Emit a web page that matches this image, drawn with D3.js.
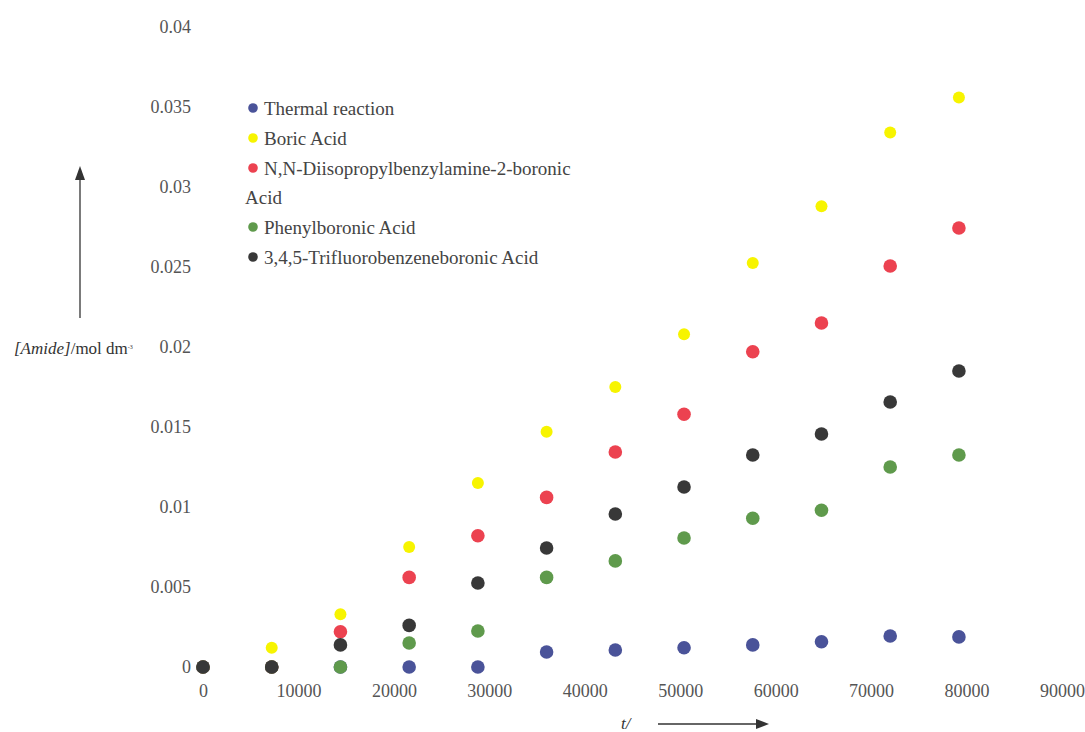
<!DOCTYPE html>
<html>
<head>
<meta charset="utf-8">
<script src="https://cdn.jsdelivr.net/npm/d3@7"></script>
<style>
  html, body { margin: 0; padding: 0; background: #fff; }
  svg { display: block; }
</style>
</head>
<body>
<svg id="chart" width="1085" height="732"></svg>
<script>
// ---- data (time in s, concentration in mol dm^-3) ----
const times      = [0, 7200, 14400, 21600, 28800, 36000, 43200, 50400, 57600, 64800, 72000, 79200];
const thermal    = [0, 0, 0, 0, 0, 0.00094, 0.00106, 0.0012, 0.00138, 0.00158, 0.00194, 0.00188];
const boric      = [0, 0.0012, 0.0033, 0.0075, 0.0115, 0.0147, 0.0175, 0.0208, 0.02525, 0.0288, 0.0334, 0.0356];
const diisoprop  = [0, 0, 0.0022, 0.0056, 0.0082, 0.0106, 0.01344, 0.0158, 0.0197, 0.0215, 0.02506, 0.02744];
const phenyl     = [0, 0, 0, 0.0015, 0.00225, 0.0056, 0.00663, 0.00806, 0.0093, 0.0098, 0.0125, 0.01325];
const trifluoro  = [0, 0, 0.00138, 0.0026, 0.00525, 0.00744, 0.00956, 0.01125, 0.01325, 0.01456, 0.01656, 0.0185];

const seriesNames  = ["Thermal reaction", "Boric Acid", "N,N-Diisopropylbenzylamine-2-boronic Acid", "Phenylboronic Acid", "3,4,5-Trifluorobenzeneboronic Acid"];
const seriesColors = ["#4a5399", "#f7f400", "#ec4250", "#5f9a4c", "#383838"];
const xTicks = [0, 10000, 20000, 30000, 40000, 50000, 60000, 70000, 80000, 90000];
const yTicks = [0, 0.005, 0.01, 0.015, 0.02, 0.025, 0.03, 0.035, 0.04];
const yTickLabels = ["0", "0.005", "0.01", "0.015", "0.02", "0.025", "0.03", "0.035", "0.04"];

const seriesValues = [thermal, boric, diisoprop, phenyl, trifluoro];

const svg = d3.select("#chart");
const font = "'Liberation Serif', 'Times New Roman', serif";

const x = d3.scaleLinear().domain([0, 90000]).range([203, 1062]);
const y = d3.scaleLinear().domain([0, 0.04]).range([667, 27]);

// y axis (labels only)
const yAxis = svg.append("g")
  .attr("transform", `translate(${x(0)},0)`)
  .call(d3.axisLeft(y).tickValues(yTicks).tickSize(0).tickPadding(12)
        .tickFormat((d, i) => yTickLabels[i]));
yAxis.select(".domain").remove();
yAxis.selectAll("text").attr("font-family", font).attr("font-size", 18).attr("fill", "#555");

// x axis (labels only)
const xAxis = svg.append("g")
  .attr("transform", `translate(0,${y(0)})`)
  .call(d3.axisBottom(x).tickValues(xTicks).tickSize(0).tickPadding(17)
        .tickFormat(d => String(d)));
xAxis.select(".domain").remove();
xAxis.selectAll("text").attr("font-family", font).attr("font-size", 18).attr("fill", "#555");

// points
seriesValues.forEach((vals, si) => {
  svg.append("g").selectAll("circle")
    .data(vals.map((v, i) => ({ t: times[i], v })))
    .join("circle")
    .attr("cx", d => x(d.t))
    .attr("cy", d => y(d.v))
    .attr("r", si === 1 ? 6 : 6.8)
    .attr("fill", seriesColors[si]);
});

// legend
const legendRows = [
  { text: seriesNames[0], yy: 108, si: 0 },
  { text: seriesNames[1], yy: 138, si: 1 },
  { text: "N,N-Diisopropylbenzylamine-2-boronic", yy: 168, si: 2 },
  { text: "Acid", yy: 197, si: -1 },
  { text: seriesNames[3], yy: 227, si: 3 },
  { text: seriesNames[4], yy: 257, si: 4 }
];
const lg = svg.append("g");
legendRows.forEach(r => {
  if (r.si >= 0) {
    lg.append("circle").attr("cx", 253).attr("cy", r.yy).attr("r", 4.8).attr("fill", seriesColors[r.si]);
  }
  lg.append("text")
    .attr("x", r.si >= 0 ? 264 : 245)
    .attr("y", r.yy)
    .attr("dy", "0.35em")
    .attr("font-family", font)
    .attr("font-size", 19)
    .attr("fill", "#444")
    .text(r.text);
});

// y title with arrow
const yt = svg.append("text")
  .attr("x", 14).attr("y", 348).attr("dy", "0.35em")
  .attr("font-family", font).attr("font-size", 17).attr("fill", "#333");
yt.append("tspan").attr("font-style", "italic").text("[Amide]");
yt.append("tspan").text("/mol dm");
yt.append("tspan").attr("font-size", 6).attr("dy", "-0.9em").text("-3");

svg.append("line").attr("x1", 80).attr("x2", 80).attr("y1", 318).attr("y2", 176)
  .attr("stroke", "#333").attr("stroke-width", 1.3);
svg.append("path").attr("d", "M80,166 L75,180 L85,180 Z").attr("fill", "#333");

// x title with arrow
svg.append("text").attr("x", 621).attr("y", 723).attr("dy", "0.35em")
  .attr("font-family", font).attr("font-size", 17).attr("font-style", "italic").attr("fill", "#333")
  .text("t/");
svg.append("line").attr("x1", 658).attr("x2", 758).attr("y1", 724).attr("y2", 724)
  .attr("stroke", "#333").attr("stroke-width", 1.3);
svg.append("path").attr("d", "M769,724 L756,719 L756,729 Z").attr("fill", "#333");
</script>
</body>
</html>
